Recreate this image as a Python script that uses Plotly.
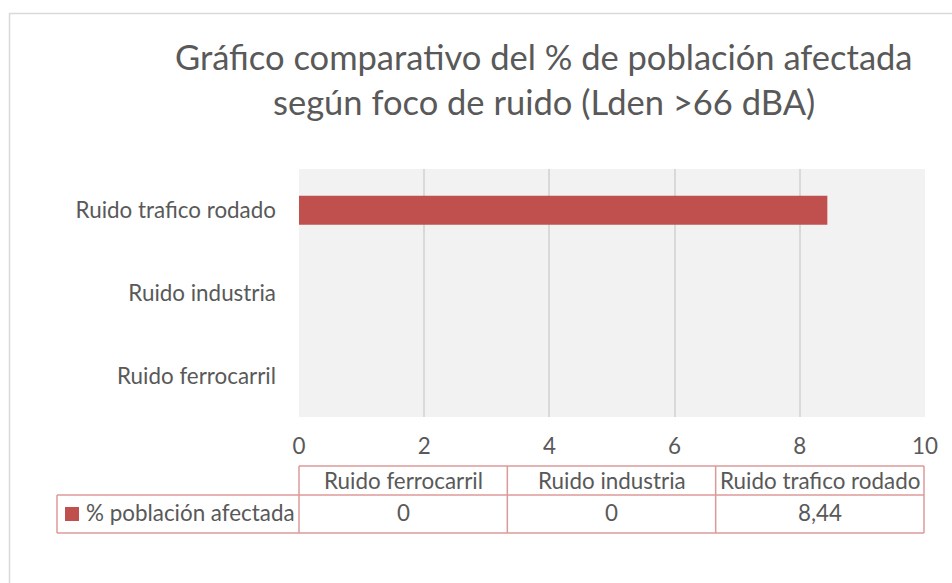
import plotly.graph_objects as go

categories = ["Ruido ferrocarril", "Ruido industria", "Ruido trafico rodado"]
values = [0, 0, 8.44]
series_name = "% población afectada"
title_lines = ["Gráfico comparativo del % de población afectada",
               "según foco de ruido (Lden >66 dBA)"]
x_ticks = [0, 2, 4, 6, 8, 10]

W, H = 952, 583


def px(x):
    return x / W


def py(y):
    return 1 - y / H


plot_l, plot_r, plot_t, plot_b = 299, 925, 169, 417

FONT = "Lato"
TXT = "#595959"
RED = "#C0504D"
BORDER = "#DB9A99"
GRID = "#D9D9D9"
FS = 22.4

fig = go.Figure(go.Bar(
    x=values, y=categories, orientation="h",
    marker=dict(color=RED, line=dict(width=0)),
    name=series_name, showlegend=False, hoverinfo="x+y",
))

fig.update_layout(
    width=W, height=H,
    margin=dict(l=0, r=0, t=0, b=0, autoexpand=False),
    paper_bgcolor="white", plot_bgcolor="#F2F2F2",
    bargap=0.65,
    font=dict(family=FONT, color=TXT, size=FS),
)
fig.update_xaxes(
    domain=[px(plot_l), px(plot_r)], range=[0, 10], automargin=False,
    tickvals=x_ticks, ticktext=[str(t) for t in x_ticks],
    showgrid=True, gridcolor=GRID, gridwidth=1.5,
    zeroline=False, showline=False, ticks="",
    ticklabelstandoff=14, tickfont=dict(size=FS, color=TXT),
)
fig.update_yaxes(
    domain=[py(plot_b), py(plot_t)], automargin=False,
    categoryorder="array", categoryarray=categories,
    showgrid=False, zeroline=False, showline=False, ticks="",
    ticklabelstandoff=22, tickfont=dict(size=FS, color=TXT),
)

# Title
title_y = [56, 101]
for line, yy in zip(title_lines, title_y):
    fig.add_annotation(text=line, x=px(544), y=py(yy), xref="paper", yref="paper",
                       showarrow=False, xanchor="center", yanchor="middle",
                       font=dict(family=FONT, size=34.5, color=TXT))

# Chart outer border
fig.add_shape(type="rect", xref="paper", yref="paper",
              x0=px(9.5), x1=px(970), y0=py(13.5), y1=py(600),
              line=dict(color=GRID, width=1.5), fillcolor="rgba(0,0,0,0)", layer="below")

# Data table below the chart
n = len(categories)
cols = [plot_l + i * (plot_r - 1 - plot_l) / n for i in range(n + 1)]
row_top, row_mid, row_bot = 466, 495, 533
leg_left = 57
line_style = dict(color=BORDER, width=1.5)


def hline(x0, x1, y):
    fig.add_shape(type="line", xref="paper", yref="paper",
                  x0=px(x0), x1=px(x1), y0=py(y), y1=py(y), line=line_style)


def vline(x, y0, y1):
    fig.add_shape(type="line", xref="paper", yref="paper",
                  x0=px(x), x1=px(x), y0=py(y0), y1=py(y1), line=line_style)


hline(cols[0], cols[-1], row_top)
hline(leg_left, cols[-1], row_mid)
hline(leg_left, cols[-1], row_bot)
vline(leg_left, row_mid, row_bot)
for c in cols:
    vline(c, row_top, row_bot)

hdr_y = (row_top + row_mid) / 2
val_y = (row_mid + row_bot) / 2 - 1.5
for i, (cat, v) in enumerate(zip(categories, values)):
    cx = (cols[i] + cols[i + 1]) / 2
    fig.add_annotation(text=cat, x=px(cx), y=py(hdr_y),
                       xref="paper", yref="paper", showarrow=False,
                       xanchor="center", yanchor="middle",
                       font=dict(family=FONT, size=FS, color=TXT))
    vtxt = f"{v:g}".replace(".", ",")
    fig.add_annotation(text=vtxt, x=px(cx), y=py(val_y),
                       xref="paper", yref="paper", showarrow=False,
                       xanchor="center", yanchor="middle",
                       font=dict(family=FONT, size=FS, color=TXT))

# legend key inside the table
fig.add_shape(type="rect", xref="paper", yref="paper",
              x0=px(65), x1=px(79), y0=py(507), y1=py(521),
              fillcolor=RED, line=dict(width=0))
fig.add_annotation(text=series_name, x=px(84), y=py(val_y),
                   xref="paper", yref="paper", showarrow=False,
                   xanchor="left", yanchor="middle",
                   font=dict(family=FONT, size=FS, color=TXT))

post = ("document.documentElement.style.overflow='hidden';"
        "document.body.style.margin='0';document.body.style.padding='0';"
        "document.body.style.overflow='hidden';")
fig.write_html("out.html", post_script=post, config={"displayModeBar": False})
